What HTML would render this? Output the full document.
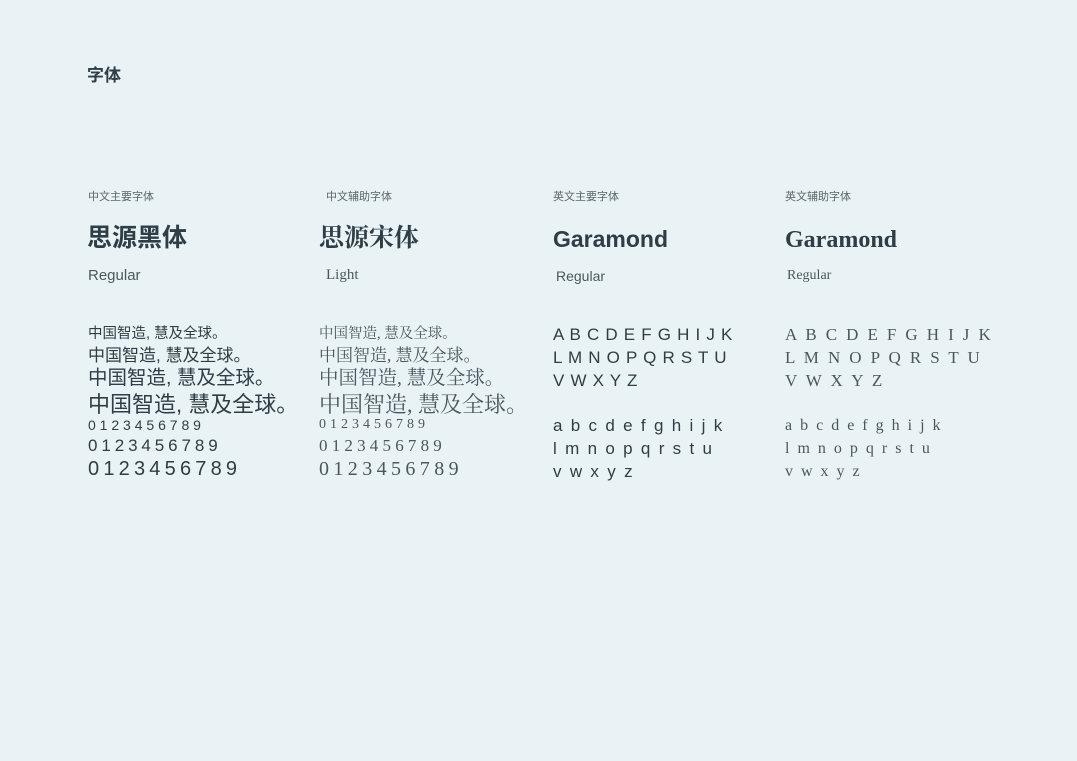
<!DOCTYPE html>
<html><head><meta charset="utf-8">
<style>
body{margin:0;width:1077px;height:761px;background:#e9f3f5;overflow:hidden;position:relative;color:#2f3e46;font-family:"Liberation Sans","Noto Sans CJK SC",sans-serif}
.a{position:absolute;white-space:nowrap;line-height:1}
.lbl{font-size:11px;color:#5a666c}
.serif{font-family:"Liberation Serif","Noto Serif CJK SC",serif}
.h{font-size:25px;font-weight:bold}
.reg{font-size:15px;color:#4a585e}
</style></head><body>
<div class="a" style="left:87px;top:67px;font-size:17px;font-weight:bold">字体</div>

<div class="a lbl" style="left:88px;top:192px">中文主要字体</div>
<div class="a lbl" style="left:326px;top:192px">中文辅助字体</div>
<div class="a lbl" style="left:553px;top:192px">英文主要字体</div>
<div class="a lbl" style="left:785px;top:192px">英文辅助字体</div>

<div class="a h" style="left:87px;top:226px">思源黑体</div>
<div class="a h serif" style="left:319px;top:226px">思源宋体</div>
<div class="a h" style="left:553px;top:228px;font-size:23px">Garamond</div>
<div class="a h serif" style="left:785px;top:228px;font-size:24px">Garamond</div>

<div class="a reg" style="left:88px;top:268px">Regular</div>
<div class="a reg serif" style="left:326px;top:268px">Light</div>
<div class="a reg" style="left:556px;top:269px;font-size:14px">Regular</div>
<div class="a reg serif" style="left:787px;top:269px;font-size:14px">Regular</div>

<div>
<div class="a" style="left:88px;top:327px;font-size:14.5px">中国智造, 慧及全球。</div>
<div class="a" style="left:88px;top:347px;font-size:17px">中国智造, 慧及全球。</div>
<div class="a" style="left:88px;top:369px;font-size:19.5px">中国智造, 慧及全球。</div>
<div class="a" style="left:88px;top:394px;font-size:22px">中国智造, 慧及全球。</div>
<div class="a" style="left:88px;top:418px;font-size:14px;letter-spacing:3.9px">0123456789</div>
<div class="a" style="left:88px;top:437px;font-size:17px;letter-spacing:3.9px">0123456789</div>
<div class="a" style="left:88px;top:459px;font-size:20px;letter-spacing:4.2px">0123456789</div>
</div>

<div style="color:#4a585e">
<div class="a serif" style="left:319px;top:327px;font-size:14.5px">中国智造, 慧及全球。</div>
<div class="a serif" style="left:319px;top:347px;font-size:17px">中国智造, 慧及全球。</div>
<div class="a serif" style="left:319px;top:369px;font-size:19.5px">中国智造, 慧及全球。</div>
<div class="a serif" style="left:319px;top:394px;font-size:22px">中国智造, 慧及全球。</div>
<div class="a serif" style="left:319px;top:418px;font-size:14px;letter-spacing:4px">0123456789</div>
<div class="a serif" style="left:319px;top:437px;font-size:17px;letter-spacing:4.2px">0123456789</div>
<div class="a serif" style="left:319px;top:459px;font-size:20px;letter-spacing:4.4px">0123456789</div>
</div>

<div style="font-size:17px">
<div class="a" style="left:553px;top:326px;letter-spacing:0.7px">A B C D E F G H I J K</div>
<div class="a" style="left:553px;top:349px;letter-spacing:0.7px">L M N O P Q R S T U</div>
<div class="a" style="left:553px;top:372px;letter-spacing:0.7px">V W X Y Z</div>
<div class="a" style="left:553px;top:417px;letter-spacing:1.8px">a b c d e f g h i j k</div>
<div class="a" style="left:553px;top:440px;letter-spacing:1.8px">l m n o p q r s t u</div>
<div class="a" style="left:553px;top:463px;letter-spacing:1.8px">v w x y z</div>
</div>

<div style="font-size:17px;color:#4a585e">
<div class="a serif" style="left:785px;top:326px;letter-spacing:2.4px">A B C D E F G H I J K</div>
<div class="a serif" style="left:785px;top:349px;letter-spacing:2.4px">L M N O P Q R S T U</div>
<div class="a serif" style="left:785px;top:372px;letter-spacing:2.4px">V W X Y Z</div>
<div class="a serif" style="left:785px;top:418px;letter-spacing:2px;font-size:16px">a b c d e f g h i j k</div>
<div class="a serif" style="left:785px;top:441px;letter-spacing:2px;font-size:16px">l m n o p q r s t u</div>
<div class="a serif" style="left:785px;top:464px;letter-spacing:2px;font-size:16px">v w x y z</div>
</div>
</body></html>
